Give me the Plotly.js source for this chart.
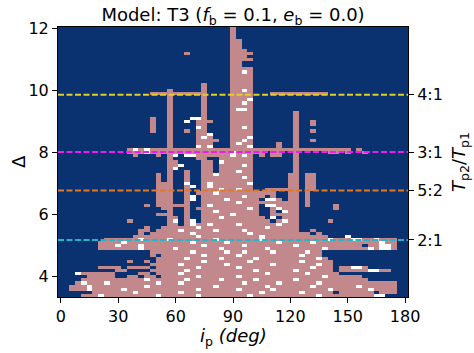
<!DOCTYPE html>
<html>
<head>
<meta charset="utf-8">
<script src="https://cdn.plot.ly/plotly-3.0.1.min.js"></script>
<style>
  html, body { margin: 0; padding: 0; background: #fff; }
  #chart { width: 474px; height: 353px; }
</style>
</head>
<body>
<div id="chart"></div>
<script>
const inclination = [0, 3, 6, 9, 12, 15, 18, 21, 24, 27, 30, 33, 36, 39, 42, 45, 48, 51, 54, 57,
    60, 63, 66, 69, 72, 75, 78, 81, 84, 87, 90, 93, 96, 99, 102, 105, 108, 111, 114, 117,
    120, 123, 126, 129, 132, 135, 138, 141, 144, 147, 150, 153, 156, 159, 162, 165, 168, 171, 174, 177, 180];

const delta = [3.4, 3.5, 3.6, 3.7, 3.8, 3.9, 4.0, 4.1, 4.2, 4.3, 4.4, 4.5, 4.6, 4.7, 4.8, 4.9,
    5.0, 5.1, 5.2, 5.3, 5.4, 5.5, 5.6, 5.7, 5.8, 5.9, 6.0, 6.1, 6.2, 6.3, 6.4, 6.5, 6.6, 6.7, 6.8, 6.9,
    7.0, 7.1, 7.2, 7.3, 7.4, 7.5, 7.6, 7.7, 7.8, 7.9, 8.0, 8.1, 8.2, 8.3, 8.4, 8.5, 8.6, 8.7, 8.8, 8.9,
    9.0, 9.1, 9.2, 9.3, 9.4, 9.5, 9.6, 9.7, 9.8, 9.9, 10.0, 10.1, 10.2, 10.3, 10.4, 10.5, 10.6, 10.7, 10.8, 10.9,
    11.0, 11.1, 11.2, 11.3, 11.4, 11.5, 11.6, 11.7, 11.8, 11.9, 12.0];

// one string per delta row, top (12.0) first; one char per inclination
// '.' stable, 'p' unstable, 'w' other outcome
const cellRows = [
  ".......... .......... .......... p......... .......... .......... .",
  ".......... .......... .......... p......... .......... .......... .",
  ".......... .......... .......... p......... .......... .......... .",
  ".......... .......... .......... p......... .......... .......... .",
  ".......... .......... .......... pp........ .......... .......... .",
  ".......... .......... .......... pp........ .......... .......... .",
  ".......... .......... .......... pp........ .......... .......... .",
  ".......... .......... .......... ppp....... .......... .......... .",
  ".......... .......... ..p....... pppp...... .......... .......... .",
  ".......... .......... .......... ppp....... .......... .......... .",
  ".......... .......... .......... pppp...... .......... .......... .",
  ".......... .......... .......... pp........ .......... .......... .",
  ".......... .......... .......... pp........ .......... .......... .",
  ".......... .......... .......... pppp...... .......... .......... .",
  ".......... .......... .......... ppwp...... .......... .......... .",
  ".......... .......... .......... pppp...... .......... .......... .",
  ".......... .......... .......... pppp...... .......... .......... .",
  ".......... .......... .......... pppp...... .......... .......... .",
  ".......... .......... .....p.... pppp...... .......... .......... .",
  ".......... .......... .....p.... pppp...... .......... .......... .",
  ".......... .........p .....p.... ppwp...... .......... .......... .",
  ".......... ......pppp pppppp.... pppp...ppp ppppppp... .......... .",
  ".......... .........p .....p.... pppp...... .......... .......... .",
  ".......... .........p .....p.... pppw...... .......... .......... .",
  ".......... .........p .....p.... ppwp...... .......... .......... .",
  ".......... .........p .....p.... pppp...... .......... .......... .",
  ".......... .........p .....p.... pwwp...... .......... .......... .",
  ".......... .........p .....p.... pppp...... .p........ .......... .",
  ".......... .........p .....p.... pppp...... .p........ .......... .",
  ".......... ......p..p ...wwp.... pppp...... .p........ .......... .",
  ".......... ......p..p ..w.ppp... pppp...... .p..p..... .......... .",
  ".......... ......p..p ....pp.... pppp...... .p..p..... .......... .",
  ".......... ......p..p ....wp.... ppwp...... .p........ .......... .",
  ".......... ......p..p ..p.pp.... pppp...... .p..p..... .......... .",
  ".......... .........p ....ppw... pppp...... .p........ .......... .",
  ".......... .........p ....pwp... pppw...... .p........ .......... .",
  ".......... .........p ....pppp.. ppwp...... .p..p..... .......... .",
  ".......... .........p ....ppp... pwpp....p. .p........ .......... .",
  ".......... .........p ....wpw... pppw....p. .p........ .......... .",
  ".......... ..pwpwpppp pppppppppp pppppppppp pppppppppp p.p....... .",
  ".......... ..pppwpppp pppppppppp wppppp.pp. .p.....pp. p..p...... .",
  ".......... ...p...p.p w.wwpppppp wpwp.p.pp. .p........ .......... .",
  ".......... .........p ....pp..pp pppp...... .p........ .......... .",
  ".......... .........p p....pp.wp pppp...... .p........ .......... .",
  ".......... .........p pw...pp.pp ppwp...... .p........ .......... .",
  ".......... .........p w....pp.pp pppp...... .p........ .......... .",
  ".......... .........p ..p..pp.pp pwpp...... .p........ .......... .",
  ".......... .......p.p ..p..ppwpp pppp...... pp.pp..... .......... .",
  ".......... .......p.p ..p..ppppp ppwp...... pp.pp..... .......... .",
  ".......... .......p.p ..p..ppppp pppp...... pp.pp..... .......... .",
  ".......... .......ppp ..w..pwppp pppw...... pp.pp..... .......... .",
  ".......... .......ppp ..pw.pwppp pppp...... pp.pp..... .......... .",
  ".......... .......ppp ..p..pppwp pwpp..pppp pp.pp..... .......... .",
  ".......... .......ppp ..p.pppwpp pppppppp.. pp.p...... .......... .",
  ".......... .......ppp ..pw.ppppp ppwppp.p.. pp.p...... .......... .",
  ".......... .......ppp ..pw.ppppw ppppp.wwp. pp.p...... .......... .",
  ".......... .......ppp ..p..ppppp pwpppppppp pp.p...... .......... .",
  ".......... .....p.ppp ppp..pwppp ppppp.wwpp pp.p....p. .......... .",
  ".......... ........pp ..p.pppppp pppwp..pwp pp......p. .......... .",
  ".......... .........p ..p..ppwpp ppppp..p.w pp........ .......... .",
  ".......... .......ppp ..p..ppppp wpppp..ppp pp........ .......... .",
  ".......... .........p p.p..pppwp pppppp.w.p pp........ .......... .",
  ".......... ..p......p w.pw.ppppp ppppppp.pw pp.....p.. .......... .",
  ".......... .........p p.pwppwppp pwppppppwp pp........ .......... .",
  ".......... .....p..pp ppppwppppp ppppppwppp pp........ .......... .",
  ".......... ....pp.ppp pwpppppwpp ppwppppppp pp..p..... .......... .",
  ".......... ....p.pppp pppwpppppp pppwpppppp pppp.p.... .......... .",
  ".......... ...ppppppp ppppwppppp pppppwpppp ppppppp... w......... .",
  "........pp ppppwppppw pppppppwpp pppppwpppp pppppppwpp pwwppwppp. .",
  ".......ppp pwpppppppp pppwpppppw ppppppppwp ppppwppppp ppppppwpp. .",
  ".......ppp wpppwppppp pppppwpppp ppwppppppp pwpppppppp ppp.ppwwp. .",
  ".......ppp ppppwppppp wpppppppwp ppppppwppp ppppppwppp ppppwpwwp. .",
  ".......... ......pppp pppwpppppw ppwppppwpp pppwpp.... .......... .",
  ".......... ......p.pp pppppwpppp pwpppppppp ppwppp.... .......... .",
  ".......... .......ppp ppwpppppwp ppppwppppp pppppwp... .......... .",
  ".......... ..p..p.ppp pppppwpppp pppwpppppp ppwppppp.. .......... .",
  ".......... ......pppp pwpppppppw pppppppwpp pppppwpp.. .......... .",
  ".......ppp p.pppp.ppp ppppwppppp pwpppppppp ppppwppp.p pwwp...... .",
  ".......... pp....pppp ppwppppppp ppppwppppp pwpppppp.p ppppwwpp.. .",
  "...wpppppp ....pp.ppp pwpppppppp ppppppwppp pppwppppp. .......... .",
  ".....ppppp ..pp.pp.pp ppppwppppp pwpppppppp ppppppwppp ppp....... .",
  "....pppppp pppppwpppp ppwpppppwp ppppwppppp pwpppppppp pppp...... .",
  "...pwpppwp pppppppwpp pwpppppppp ppwpppppwp pppppwpppp ppppppppp. .",
  "..pppwpppp pppppwpppp pppppppwpp ppppppwppp ppppwppppp ppwpppppp. .",
  "..pppwpppp pwpppppppp ppppwppppp pwpppppwpp pppppppwpp ppppwpppp. .",
  "......pppp pppwpppppp pwpppppppp pppppwpppp ppwppppp.p ppppp.ppp. .",
  "....pppwpp pppppppwpp ppppwppppp pppwpppppp pppppwpppp pppppww... ."
];

const resRatio = ['4:1', '3:1', '5:2', '2:1'];
const resDelta = [9.87, 8.02, 6.78, 5.19];
const resColor = ['#e3cf2a', '#f21af2', '#e07a26', '#22b6cc'];

const font = 'DejaVu Sans';
const cellCode = {'.': 0, 'p': 1, 'w': 2};

const z = cellRows.slice().reverse().map(row =>
    row.replace(/ /g, '').split('').map(ch => cellCode[ch]));

const traces = [
    {
        type: 'heatmap',
        x: inclination,
        y: delta,
        z: z,
        zmin: 0,
        zmax: 2,
        colorscale: [[0, '#0a3270'], [0.5, '#c2888b'], [1, '#ffffff']],
        showscale: false,
        hoverinfo: 'skip',
    },
    {
        type: 'scatter',
        x: [null],
        y: [null],
        yaxis: 'y2',
        showlegend: false,
        hoverinfo: 'skip',
    }
];

const shapes = resDelta.map((d, i) => ({
    type: 'line',
    xref: 'paper', x0: 0, x1: 1,
    yref: 'y', y0: d, y1: d,
    line: {color: resColor[i], width: 2, dash: '6px,2.5px'},
}));

// fresh objects per axis, plotly doesn't like shared ones
function axisBase() {
    return {
        ticks: 'outside',
        ticklen: 5,
        tickwidth: 1,
        tickcolor: '#000',
        showgrid: false,
        zeroline: false,
        tickfont: {family: font, size: 16, color: '#000'},
    };
}

const labelFont = () => ({family: font, size: 18, color: '#000'});

const layout = {
    width: 474,
    height: 353,
    margin: {l: 58, r: 66, t: 27, b: 56},
    paper_bgcolor: '#ffffff',
    plot_bgcolor: '#0a3270',
    showlegend: false,
    font: {family: font, color: '#000'},
    title: {
        text: 'Model: T3 (<i>f</i><sub>b</sub> = 0.1, <i>e</i><sub>b</sub> = 0.0)',
        font: labelFont(),
        x: 0.5, xref: 'paper', xanchor: 'center',
        y: 0.957, yref: 'container', yanchor: 'middle',
    },
    xaxis: Object.assign(axisBase(), {
        range: [-1.5, 181.5],
        tickvals: [0, 30, 60, 90, 120, 150, 180],
        showline: true, linecolor: '#000', linewidth: 1, mirror: true,
    }),
    yaxis: Object.assign(axisBase(), {
        range: [3.35, 12.05],
        tickvals: [4, 6, 8, 10, 12],
        showline: true, linecolor: '#000', linewidth: 1, mirror: true,
    }),
    yaxis2: Object.assign(axisBase(), {
        overlaying: 'y',
        side: 'right',
        range: [3.35, 12.05],
        tickvals: resDelta,
        ticktext: resRatio,
        showline: false,
    }),
    annotations: [
        {
            text: '<i>i</i><sub>p</sub> <i>(deg)</i>',
            xref: 'paper', yref: 'paper', x: 0.5, y: 0,
            xanchor: 'center', yanchor: 'top', yshift: -26,
            showarrow: false, font: labelFont(),
        },
        {
            text: 'Δ',
            xref: 'paper', yref: 'paper', x: 0, y: 0.5,
            xanchor: 'center', yanchor: 'middle', xshift: -40,
            textangle: -90, showarrow: false, font: labelFont(),
        },
        {
            text: '<i>T</i><sub>p2</sub>/<i>T</i><sub>p1</sub>',
            xref: 'paper', yref: 'paper', x: 1, y: 0.5,
            xanchor: 'center', yanchor: 'middle', xshift: 52,
            textangle: -90, showarrow: false, font: labelFont(),
        },
    ],
    shapes: shapes,
};

Plotly.newPlot('chart', traces, layout, {displayModeBar: false, staticPlot: true});
</script>
</body>
</html>
